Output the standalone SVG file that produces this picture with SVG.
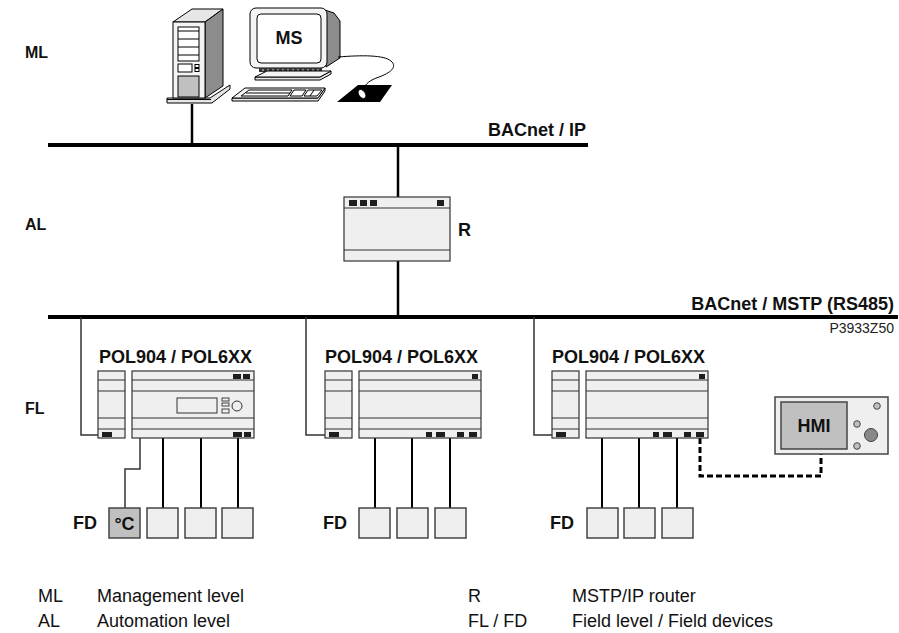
<svg xmlns="http://www.w3.org/2000/svg" xmlns:xlink="http://www.w3.org/1999/xlink" width="899" height="633" viewBox="0 0 899 633">
  <style>
    .lbl { font-family: "Liberation Sans", Arial, sans-serif; font-weight: bold; font-size: 18px; fill: #111; }
    .lvl { font-family: "Liberation Sans", Arial, sans-serif; font-weight: bold; font-size: 16px; fill: #111; }
    .leg { font-family: "Liberation Sans", Arial, sans-serif; font-size: 18px; fill: #111; }
    .code { font-family: "Liberation Sans", Arial, sans-serif; font-size: 14px; fill: #222; }
    .mod { fill: #efefef; stroke: #333; stroke-width: 1.2; }
    .sep { stroke: #333; stroke-width: 1.2; fill: none; }
    .dark { fill: #1e1e1e; }
    .fd { fill: #efefef; stroke: #444; stroke-width: 1.5; }
    .bus { stroke: #000; stroke-width: 4; fill: none; }
    .trunk { stroke: #000; stroke-width: 2.5; fill: none; }
    .drop { stroke: #333; stroke-width: 1.5; fill: none; }
    .wire { stroke: #000; stroke-width: 2; fill: none; }
    .ol { stroke: #000; stroke-width: 1; }
  </style>
  <defs>
    <!-- DIN-rail controller: narrow comm module + main housing (origin = top-left of narrow module) -->
    <g id="housing">
      <rect class="mod" x="0" y="0" width="27" height="67"/>
      <rect class="mod" x="34" y="0" width="122" height="67"/>
      <path class="sep" d="M0,9 H27 M0,20 H27 M0,47 H27 M0,58 H27 M34,9 H156 M34,20 H156 M34,47 H156 M34,58 H156"/>
      <rect class="dark" x="4" y="61" width="10" height="5"/>
    </g>
    <g id="ctrlPlain">
      <use xlink:href="#housing"/>
      <rect class="dark" x="147" y="3" width="6" height="5"/>
      <rect class="dark" x="101" y="61" width="6" height="5"/>
      <rect class="dark" x="111" y="61" width="9" height="5"/>
      <rect class="dark" x="132" y="61" width="7" height="5"/>
      <rect class="dark" x="144" y="61" width="8" height="5"/>
    </g>
  </defs>

  <rect width="899" height="633" fill="#fff"/>

  <!-- level captions -->
  <text class="lvl" x="25" y="58">ML</text>
  <text class="lvl" x="25" y="230">AL</text>
  <text class="lvl" x="25" y="414">FL</text>

  <!-- connectors -->
  <g id="connectors">
    <line class="bus" x1="48" y1="145" x2="588" y2="145"/>
    <line class="bus" x1="48" y1="317" x2="898" y2="317"/>
    <line class="trunk" x1="192" y1="104" x2="192" y2="145"/>
    <line class="trunk" x1="398" y1="145" x2="398" y2="197"/>
    <line class="trunk" x1="398" y1="261" x2="398" y2="317"/>
    <polyline class="drop" points="81,317 81,435 102,435"/>
    <polyline class="drop" points="306,317 306,435 329,435"/>
    <polyline class="drop" points="534,317 534,435 556,435"/>
    <!-- field wiring -->
    <polyline class="drop" points="140,438 140,469 125,469 125,508"/>
    <path class="wire" d="M163,438 V508 M201,438 V508 M238,438 V508"/>
    <path class="wire" d="M375,438 V508 M412,438 V508 M450,438 V508"/>
    <path class="wire" d="M602,438 V508 M639,438 V508 M677,438 V508"/>
    <polyline points="700,438 700,476 821,476 821,454" fill="none" stroke="#000" stroke-width="3" stroke-dasharray="6 3"/>
  </g>

  <!-- bus captions -->
  <text class="lbl" x="586" y="136" text-anchor="end">BACnet / IP</text>
  <text class="lbl" x="894" y="310" text-anchor="end">BACnet / MSTP (RS485)</text>
  <text class="code" x="894" y="333" text-anchor="end">P3933Z50</text>

  <!-- management station -->
  <g id="ms">
    <!-- tower base -->
    <polygon class="ol" points="167,98 210,98 230,85 230,89 212,103 167,103" fill="#e6e6e6"/>
    <line class="ol" x1="167" y1="99.5" x2="211" y2="99.5"/>
    <!-- tower -->
    <polygon class="ol" points="173,22 205,22 223,9 192,9" fill="#e6e6e6"/>
    <polygon class="ol" points="205,22 223,9 223,86 205,98" fill="#8c8c8c"/>
    <rect class="ol" x="173" y="22" width="32" height="76" fill="#f4f4f4"/>
    <rect class="ol" x="178" y="27" width="21" height="34" fill="#fff"/>
    <path class="ol" d="M178,31 H199 M178,39 H199 M178,47 H199 M178,55 H199"/>
    <rect class="ol" x="178" y="64" width="14" height="8" fill="#fff"/>
    <rect class="ol" x="195" y="64.5" width="4" height="3" fill="#fff"/>
    <rect class="ol" x="195" y="68.5" width="4" height="3" fill="#fff"/>
    <rect class="ol" x="178" y="76" width="21" height="21" fill="#c0c0c0"/>

    <!-- monitor -->
    <polygon class="ol" points="325,10 334,13 340,21 340,58 326,67" fill="#8c8c8c"/>
    <rect class="ol" x="250" y="8" width="77" height="60" rx="6" fill="#f4f4f4" stroke-width="1.2"/>
    <rect class="ol" x="257" y="14" width="64" height="49" rx="4" fill="#fff"/>
    <text class="lbl" x="289" y="44" text-anchor="middle" font-size="17">MS</text>
    <rect x="259" y="68" width="63" height="4" fill="#333"/>
    <line x1="262" y1="70" x2="320" y2="70" stroke="#ddd" stroke-width="1" stroke-dasharray="2 3"/>
    <polygon class="ol" points="255,77 320,77 331,71 331,74 320,80 255,80" fill="#e6e6e6"/>
    <polygon class="ol" points="255,77 320,77 331,71 267,71" fill="#f4f4f4"/>

    <!-- keyboard -->
    <polygon class="ol" points="232,98 318,98 325,88 325,91 318,101 232,101" fill="#e6e6e6"/>
    <polygon class="ol" points="245,88 325,88 318,98 232,98" fill="#f4f4f4"/>
    <polygon class="ol" points="249,90 292,90 288,96 241,96" fill="#fff"/>
    <line class="ol" x1="246" y1="93" x2="290" y2="93"/>
    <polygon class="ol" points="294,90 306,90 302,96 290,96" fill="#fff"/>
    <polygon class="ol" points="308,90 322,90 317,96 304,96" fill="#fff"/>
    <line class="ol" x1="314" y1="90" x2="310" y2="96"/>

    <!-- mouse pad, mouse and cable -->
    <polygon points="358,85 392,85 380,102 337,102" fill="#000"/>
    <path d="M338,57 C362,55 384,55 391,61 C398,67 390,73 379,77 C370,80 365,84 364,89" fill="none" stroke="#000" stroke-width="1"/>
    <ellipse cx="362" cy="94" rx="3.2" ry="5" transform="rotate(-35 362 94)" fill="#fff" stroke="#000" stroke-width="0.8"/>
  </g>

  <!-- router -->
  <g id="router">
    <rect class="mod" x="344" y="197" width="106" height="64" stroke-width="1.5"/>
    <path class="sep" d="M344,208 H450 M344,250 H450" stroke-width="1.5"/>
    <rect class="dark" x="349" y="200" width="8" height="6"/>
    <rect class="dark" x="360" y="200" width="7" height="6"/>
    <rect class="dark" x="370" y="200" width="7" height="6"/>
    <rect class="dark" x="437" y="200" width="7" height="6"/>
    <text class="lbl" x="458" y="236" font-size="19">R</text>
  </g>

  <!-- controller 1 with display -->
  <g id="ctrl1">
    <text class="lbl" x="99" y="363">POL904 / POL6XX</text>
    <g transform="translate(98,371)">
      <use xlink:href="#housing"/>
      <rect class="dark" x="135" y="3" width="8" height="5"/>
      <rect class="dark" x="145" y="3" width="7" height="5"/>
      <rect class="dark" x="135" y="61" width="9" height="5"/>
      <rect class="dark" x="146" y="61" width="7" height="5"/>
      <rect x="79" y="27" width="40" height="15" fill="#efefef" stroke="#333" stroke-width="1"/>
      <rect x="124" y="27" width="7" height="3" fill="#efefef" stroke="#333" stroke-width="0.9"/>
      <rect x="124" y="32" width="7" height="3" fill="#efefef" stroke="#333" stroke-width="0.9"/>
      <rect x="124" y="38" width="7" height="4" fill="#efefef" stroke="#333" stroke-width="0.9"/>
      <circle cx="139" cy="35" r="5" fill="#efefef" stroke="#333" stroke-width="1"/>
    </g>
  </g>

  <!-- controller 2 -->
  <g id="ctrl2">
    <text class="lbl" x="325" y="363">POL904 / POL6XX</text>
    <use xlink:href="#ctrlPlain" transform="translate(325,371)"/>
  </g>

  <!-- controller 3 -->
  <g id="ctrl3">
    <text class="lbl" x="552" y="363">POL904 / POL6XX</text>
    <use xlink:href="#ctrlPlain" transform="translate(552,371)"/>
  </g>

  <!-- operator panel -->
  <g id="hmi">
    <rect x="775" y="397" width="113" height="57" fill="#efefef" stroke="#444" stroke-width="1.5"/>
    <rect x="781" y="402" width="66" height="47" fill="#c0c0c0" stroke="#444" stroke-width="1.5"/>
    <text class="lbl" x="814" y="432" text-anchor="middle">HMI</text>
    <circle cx="877" cy="406" r="3.3" fill="#c0c0c0" stroke="#444" stroke-width="1"/>
    <circle cx="857" cy="424" r="3.3" fill="#c0c0c0" stroke="#444" stroke-width="1"/>
    <circle cx="857" cy="446" r="3.3" fill="#c0c0c0" stroke="#444" stroke-width="1"/>
    <circle cx="871" cy="435" r="6.5" fill="#888" stroke="#444" stroke-width="1"/>
  </g>

  <!-- field devices -->
  <g id="fd1">
    <text class="lbl" x="73" y="529" font-size="17">FD</text>
    <rect x="109" y="508" width="31" height="30" fill="#c0c0c0" stroke="#444" stroke-width="1.5"/>
    <text class="lbl" x="124.5" y="530" text-anchor="middle">°C</text>
    <rect class="fd" x="147" y="508" width="31" height="30"/>
    <rect class="fd" x="185" y="508" width="31" height="30"/>
    <rect class="fd" x="222" y="508" width="31" height="30"/>
  </g>
  <g id="fd2">
    <text class="lbl" x="323" y="529" font-size="17">FD</text>
    <rect class="fd" x="359" y="508" width="31" height="30"/>
    <rect class="fd" x="397" y="508" width="31" height="30"/>
    <rect class="fd" x="435" y="508" width="31" height="30"/>
  </g>
  <g id="fd3">
    <text class="lbl" x="550" y="529" font-size="17">FD</text>
    <rect class="fd" x="587" y="508" width="31" height="30"/>
    <rect class="fd" x="624" y="508" width="31" height="30"/>
    <rect class="fd" x="662" y="508" width="31" height="30"/>
  </g>

  <!-- legend -->
  <g id="legend">
    <text class="leg" x="38" y="602">ML</text>
    <text class="leg" x="97" y="602">Management level</text>
    <text class="leg" x="38" y="627">AL</text>
    <text class="leg" x="97" y="627">Automation level</text>
    <text class="leg" x="468" y="602">R</text>
    <text class="leg" x="572" y="602">MSTP/IP router</text>
    <text class="leg" x="468" y="627">FL / FD</text>
    <text class="leg" x="572" y="627">Field level / Field devices</text>
  </g>
</svg>
